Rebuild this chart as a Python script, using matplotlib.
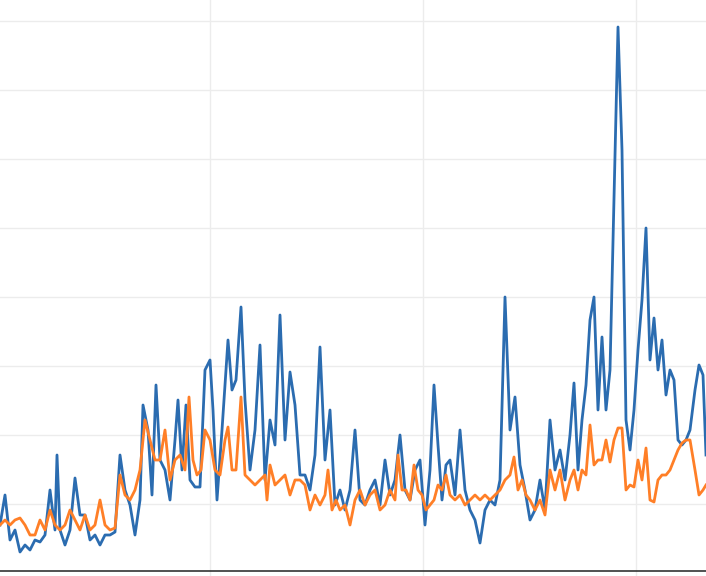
import matplotlib
matplotlib.use("Agg")
import matplotlib.pyplot as plt

# x position (day index) and readings, y measured in chart units (grid step 69)
blue_x = [0, 5, 10, 15, 20, 25, 30, 35, 40, 45, 50, 55, 57, 60, 65, 70, 75, 80, 85, 90, 95, 100, 105, 110, 115,
          120, 125, 130, 135, 140, 143, 148, 152, 156, 160, 165, 170, 175, 178, 182, 186, 190, 195, 200, 205,
          210, 213, 217, 222, 228, 232, 236, 241, 245, 250, 255, 260, 265, 270, 275, 280, 285, 290, 295, 300,
          305, 310, 315, 320, 325, 330, 335, 340, 345, 350, 355, 360, 365, 370, 375, 380, 385, 390, 395, 400,
          405, 410, 415, 420, 425, 430, 434, 438, 442, 446, 450, 455, 460, 465, 470, 475, 480, 485, 490, 495,
          500, 505, 510, 515, 520, 525, 530, 535, 540, 545, 550, 555, 560, 565, 570, 574, 578, 582, 586, 590,
          594, 598, 602, 606, 610, 614, 618, 622, 626, 630, 634, 638, 642, 646, 650, 654, 658, 662, 666, 670,
          674, 678, 682, 686, 690, 695, 699, 703, 706]
blue_px = [525, 495, 540, 530, 552, 545, 550, 540, 542, 535, 490, 530, 455, 530, 545, 530, 478, 515, 515, 540,
           535, 545, 535, 535, 532, 455, 490, 505, 535, 500, 405, 430, 495, 385, 460, 470, 500, 440, 400, 470,
           405, 480, 487, 487, 370, 360, 410, 500, 430, 340, 390, 380, 307, 400, 470, 430, 345, 480, 420, 445,
           315, 440, 372, 405, 475, 475, 490, 455, 347, 460, 410, 505, 490, 510, 490, 430, 500, 505, 490, 480,
           505, 460, 495, 480, 435, 490, 500, 470, 460, 525, 470, 385, 445, 500, 465, 460, 495, 430, 490, 510,
           520, 543, 510, 500, 505, 480, 297, 430, 397, 465, 490, 520, 510, 480, 510, 420, 470, 450, 480, 435,
           383, 470, 420, 385, 320, 297, 410, 337, 410, 370, 200, 27, 150, 420, 450, 410, 350, 300, 228, 360,
           318, 370, 340, 395, 370, 380, 440, 445, 440, 430, 390, 365, 375, 455]

orange_x = [0, 5, 10, 15, 20, 25, 30, 35, 40, 45, 50, 55, 60, 65, 70, 75, 80, 85, 90, 95, 100, 105, 110, 115,
            120, 125, 130, 135, 140, 145, 150, 155, 160, 165, 170, 175, 180, 185, 189, 193, 197, 201, 205, 210,
            215, 220, 225, 228, 232, 236, 241, 245, 250, 255, 260, 265, 267, 270, 275, 280, 285, 290, 295, 300,
            305, 310, 315, 320, 325, 328, 332, 336, 340, 345, 350, 355, 360, 365, 370, 375, 380, 385, 390, 395,
            398, 402, 406, 410, 414, 418, 422, 426, 430, 434, 438, 442, 446, 450, 455, 460, 465, 470, 475, 480,
            485, 490, 495, 500, 505, 510, 514, 518, 522, 526, 530, 535, 540, 545, 550, 555, 560, 565, 570, 574,
            578, 582, 586, 590, 594, 598, 602, 606, 610, 614, 618, 622, 626, 630, 634, 638, 642, 646, 650, 654,
            658, 662, 666, 670, 674, 678, 682, 686, 690, 695, 699, 703, 706]
orange_px = [525, 520, 525, 520, 518, 525, 535, 535, 520, 530, 510, 525, 530, 525, 510, 520, 530, 515, 530, 525,
             500, 525, 530, 528, 475, 495, 500, 490, 470, 420, 440, 460, 460, 430, 480, 460, 455, 470, 397, 460,
             475, 470, 430, 440, 470, 475, 440, 427, 470, 470, 397, 475, 480, 485, 480, 475, 500, 465, 485, 480,
             475, 495, 480, 480, 485, 510, 495, 505, 495, 470, 510, 500, 510, 505, 525, 500, 490, 505, 495, 490,
             510, 505, 490, 500, 455, 490, 490, 500, 465, 490, 495, 510, 505, 500, 485, 490, 475, 495, 500, 495,
             505, 500, 495, 500, 495, 500, 495, 490, 480, 475, 457, 490, 480, 495, 500, 510, 500, 515, 470, 490,
             470, 500, 480, 470, 490, 470, 475, 425, 465, 460, 460, 440, 462, 440, 428, 428, 490, 485, 487, 460,
             480, 448, 500, 502, 480, 475, 475, 470, 460, 450, 443, 440, 440, 470, 495, 490, 485]

blue_y = [573 - p for p in blue_px]
orange_y = [573 - p for p in orange_px]

fig = plt.figure(figsize=(7.06, 5.76), dpi=100)
ax = fig.add_axes([0, 0, 1, 1])
ax.plot(blue_x, blue_y, color="#2b6cb0", lw=2, zorder=3)
ax.plot(orange_x, orange_y, color="#ff7f27", lw=2, zorder=3)

ax.set_xlim(0, 706)
ax.set_ylim(-3, 573)
ax.set_xticks([210, 423, 636])
ax.set_yticks([69, 138, 207, 276, 345, 414, 483, 552])
ax.grid(color="#ececec", lw=1)
ax.axhline(2, color="#333333", lw=1.2)
ax.tick_params(length=0, labelleft=False, labelbottom=False)
for s in ax.spines.values():
    s.set_visible(False)

fig.savefig("out.png", dpi=100)
